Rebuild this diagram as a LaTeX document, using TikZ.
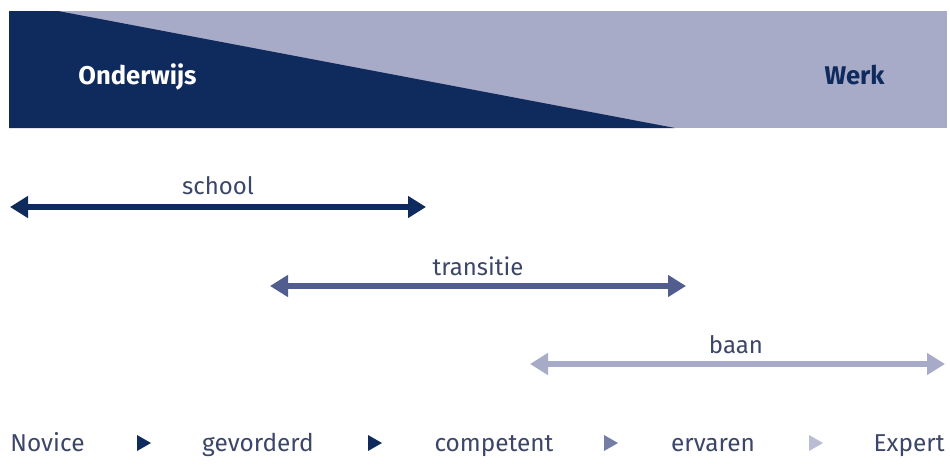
\documentclass[tikz,border=0pt]{standalone}
\usepackage{fontspec}
\setmainfont{Fira Sans}
\usetikzlibrary{arrows.meta}
\definecolor{navy}{HTML}{0F2A5C}
\definecolor{slate}{HTML}{515D8F}
\definecolor{lav}{HTML}{A8ABC8}
\definecolor{txt}{HTML}{3C4668}
\tikzset{
  span/.style={line width=3pt, {Triangle[length=9pt,width=10.5pt]}-{Triangle[length=9pt,width=10.5pt]}},
  lbl/.style={text=txt, font=\fontsize{12}{14}\selectfont, inner sep=0pt, anchor=base},
  stage/.style={text=txt, font=\fontsize{12.2}{14}\selectfont, inner sep=0pt, anchor=base},
  head/.style={font=\bfseries\fontsize{12.8}{14}\selectfont, inner sep=0pt, anchor=base west}
}
\begin{document}
\begin{tikzpicture}[x=0.5pt,y=-0.5pt]
\useasboundingbox (0,0) rectangle (950,466);
% banner
\fill[lav] (9,11) rectangle (947,128);
\fill[navy] (9,11) -- (58,11) -- (675,128) -- (9,128) -- cycle;
\node[head, text=white] (ond) at (78,84) {Onderwijs};
\node[head, text=navy, anchor=base east] (werk) at (885,84) {Werk};
% spans
\coordinate (s1) at (10,207); \coordinate (s2) at (426,207);
\draw[span, navy] (s1) -- (s2);
\node[lbl] (school) at (218,194) {school};
\coordinate (t1) at (270,286); \coordinate (t2) at (686,286);
\draw[span, slate] (t1) -- (t2);
\node[lbl] (trans) at (478,275) {transitie};
\coordinate (b1) at (530,364); \coordinate (b2) at (945,364);
\draw[span, lav] (b1) -- (b2);
\node[lbl] (baan) at (736,353) {baan};
% stages
\node[stage, anchor=base west] (nov) at (10,451) {Novice};
\node[stage] (gev) at (258,451) {gevorderd};
\node[stage] (comp) at (494,451) {competent};
\node[stage] (erv) at (713,451) {ervaren};
\node[stage, anchor=base east] (exp) at (945,451) {Expert};
\fill[navy] (137,435) -- (151,443) -- (137,451) -- cycle;
\fill[navy] (368,435) -- (382,443) -- (368,451) -- cycle;
\fill[slate!80] (604,435) -- (618,443) -- (604,451) -- cycle;
\fill[lav!80] (809,435) -- (823,443) -- (809,451) -- cycle;
\end{tikzpicture}
\end{document}
